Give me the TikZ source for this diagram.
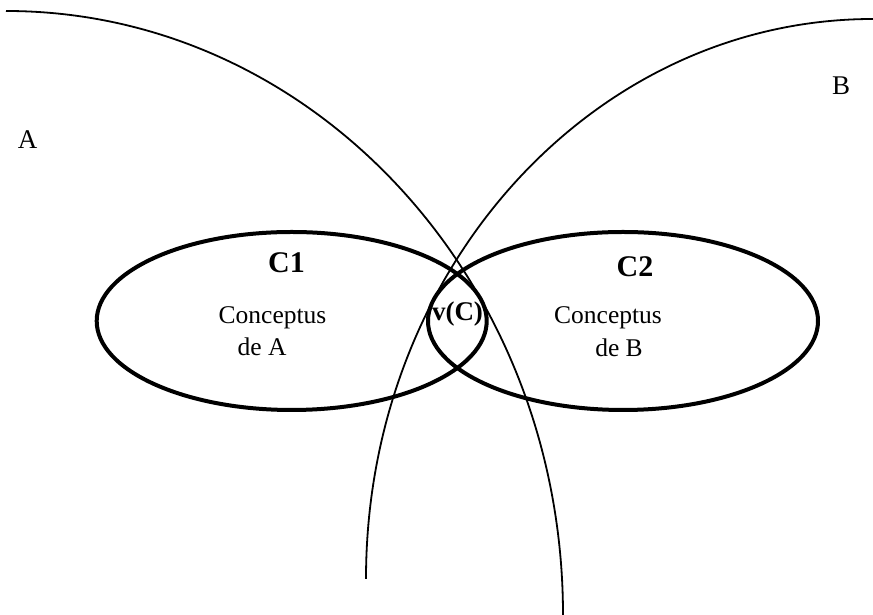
\documentclass[tikz,border=0pt]{standalone}
\usepackage{fontspec}
\setmainfont{Liberation Serif}
\begin{document}
\begin{tikzpicture}[x=1pt,y=1pt,
  arcline/.style={line width=1.8pt},
  setline/.style={line width=4pt},
  lbl/.style={inner sep=0pt,anchor=base,font=\fontsize{27}{32}\selectfont},
  conc/.style={inner sep=0pt,anchor=base,font=\fontsize{25.5}{30}\selectfont},
  big/.style={inner sep=0pt,anchor=base,font=\fontsize{30}{36}\selectfont\bfseries},
  mid/.style={inner sep=0pt,anchor=base,font=\fontsize{27}{32}\selectfont\bfseries}]
\useasboundingbox (0,0) rectangle (873,615);
% large arcs
\draw[arcline] (6,604) arc[start angle=90,end angle=0,x radius=557pt,y radius=604pt];
\draw[arcline] (873,596) arc[start angle=90,end angle=180,x radius=507pt,y radius=560pt];
% concept ellipses
\draw[setline] (291.7,294) ellipse[x radius=195pt,y radius=89pt];
\draw[setline] (623,294) ellipse[x radius=195pt,y radius=89pt];
% labels
\node[lbl] (la) at (27.5,466) {A};
\node[lbl] (lb) at (841,520) {B};
\node[big] (c1) at (286.5,342.3) {C1};
\node[big] (c2) at (635,338.3) {C2};
\node[conc] (ca) at (272.5,291.7) {Conceptus};
\node[conc] (da) at (262,259.5) {de A};
\node[conc] (cb) at (608,291.7) {Conceptus};
\node[conc] (db) at (619,258.3) {de B};
\node[mid] (vc) at (457.5,294) {v(C)};
\end{tikzpicture}
\end{document}
